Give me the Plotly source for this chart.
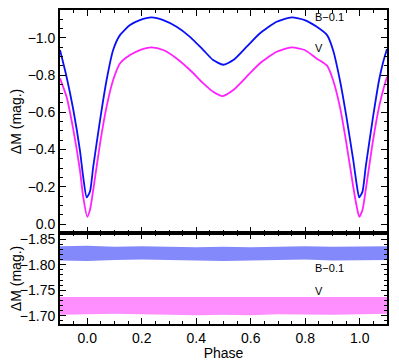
import plotly.graph_objects as go
from plotly.subplots import make_subplots

# light curve, B band shifted by -0.1
b_phase = [-0.100, -0.076, -0.051, -0.027, -0.015, -0.002, 0.010, 0.022, 0.047, 0.071,
           0.095, 0.120, 0.157, 0.193, 0.236, 0.279, 0.328, 0.377, 0.426, 0.462,
           0.499, 0.536, 0.585, 0.633, 0.695, 0.750, 0.798, 0.841, 0.880, 0.902,
           0.927, 0.951, 0.976, 0.988, 0.998, 1.010, 1.022, 1.047, 1.071, 1.086, 1.100]
b_mag = [-0.934, -0.791, -0.612, -0.397, -0.254, -0.143, -0.174, -0.308, -0.558, -0.773,
         -0.934, -1.014, -1.068, -1.095, -1.109, -1.095, -1.059, -1.005, -0.934, -0.880,
         -0.855, -0.880, -0.952, -1.023, -1.086, -1.109, -1.095, -1.060, -1.014, -0.934,
         -0.773, -0.576, -0.344, -0.220, -0.143, -0.174, -0.308, -0.558, -0.773, -0.870, -0.940]

# light curve, V band
v_phase = [-0.100, -0.076, -0.051, -0.027, -0.015, 0.000, 0.010, 0.022, 0.047, 0.071,
           0.095, 0.120, 0.157, 0.193, 0.236, 0.279, 0.328, 0.377, 0.426, 0.462,
           0.497, 0.536, 0.585, 0.633, 0.695, 0.750, 0.798, 0.841, 0.880, 0.902,
           0.927, 0.951, 0.976, 0.988, 0.998, 1.010, 1.022, 1.047, 1.071, 1.086, 1.100]
v_mag = [-0.782, -0.683, -0.505, -0.290, -0.147, -0.039, -0.075, -0.183, -0.433, -0.630,
         -0.773, -0.862, -0.907, -0.934, -0.948, -0.934, -0.889, -0.827, -0.755, -0.710,
         -0.687, -0.719, -0.791, -0.862, -0.925, -0.948, -0.934, -0.889, -0.850, -0.773,
         -0.630, -0.433, -0.200, -0.100, -0.039, -0.075, -0.183, -0.433, -0.630, -0.720, -0.791]

# comparison - check star residuals: band envelopes
c_phase = [-0.10, 0.00, 0.10, 0.20, 0.30, 0.40, 0.50, 0.60, 0.70, 0.80, 0.90, 1.00, 1.10]
cb_top = [-1.836, -1.837, -1.835, -1.836, -1.835, -1.834, -1.835, -1.834, -1.835, -1.836, -1.835, -1.836, -1.836]
cb_bot = [-1.808, -1.807, -1.809, -1.810, -1.809, -1.808, -1.807, -1.808, -1.809, -1.810, -1.808, -1.808, -1.809]
cv_top = [-1.737, -1.737, -1.736, -1.737, -1.736, -1.737, -1.737, -1.736, -1.736, -1.737, -1.736, -1.737, -1.737]
cv_bot = [-1.702, -1.703, -1.704, -1.703, -1.702, -1.701, -1.702, -1.701, -1.703, -1.702, -1.702, -1.703, -1.704]

BLUE = "#0a10f5"
MAG = "#ff22ff"
FONT = "Liberation Sans"

fig = make_subplots(rows=2, cols=1, shared_xaxes=True, vertical_spacing=0,
                    row_heights=[0.71, 0.29])

fig.add_trace(go.Scatter(x=b_phase, y=b_mag, mode="lines",
                         line=dict(color=BLUE, width=1.8, shape="spline", smoothing=0.6)), row=1, col=1)
fig.add_trace(go.Scatter(x=v_phase, y=v_mag, mode="lines",
                         line=dict(color=MAG, width=1.8, shape="spline", smoothing=0.6)), row=1, col=1)

for top, bot, col, fcol in [(cb_top, cb_bot, BLUE, "rgba(30,40,245,0.55)"),
                            (cv_top, cv_bot, MAG, "rgba(255,50,255,0.55)")]:
    fig.add_trace(go.Scatter(x=c_phase, y=top, mode="lines", line=dict(width=0, color=col),
                             hoverinfo="skip"), row=2, col=1)
    fig.add_trace(go.Scatter(x=c_phase, y=bot, mode="lines", line=dict(width=0, color=col),
                             fill="tonexty", fillcolor=fcol), row=2, col=1)

ann = dict(showarrow=False, xanchor="left", font=dict(family=FONT, size=11, color="black"))
fig.add_annotation(x=0.828, y=-1.11, text="B\u22120.1", xref="x", yref="y", **ann)
fig.add_annotation(x=0.828, y=-0.945, text="V", xref="x", yref="y", **ann)
fig.add_annotation(x=0.828, y=-1.793, text="B\u22120.1", xref="x2", yref="y2", **ann)
fig.add_annotation(x=0.828, y=-1.748, text="V", xref="x2", yref="y2", **ann)

axis_common = dict(showline=True, linecolor="black", linewidth=1.8, mirror="allticks",
                   ticks="inside", ticklen=6, tickwidth=1.2, tickcolor="black",
                   showgrid=False, zeroline=False, automargin=False,
                   tickfont=dict(family=FONT, size=14, color="black"))

fig.update_xaxes(range=[-0.1, 1.1], dtick=0.2, tick0=0, tickformat=".1f",
                 minor=dict(ticks="inside", dtick=0.05, ticklen=3, tickcolor="black", tickwidth=1),
                 **axis_common)
fig.update_xaxes(title=dict(text="Phase", font=dict(family=FONT, size=14, color="black"), standoff=0),
                 row=2, col=1)
fig.update_yaxes(range=[0.048, -1.149], dtick=0.2, tick0=0, tickformat=".1f",
                 minor=dict(ticks="inside", dtick=0.05, ticklen=3, tickcolor="black", tickwidth=1),
                 title=dict(text="\u0394M (mag.)", font=dict(family=FONT, size=14, color="black"), standoff=6),
                 row=1, col=1, **axis_common)
fig.update_yaxes(range=[-1.684, -1.862], dtick=0.05, tick0=0, tickformat=".2f",
                 minor=dict(ticks="inside", dtick=0.01, ticklen=3, tickcolor="black", tickwidth=1),
                 title=dict(text="\u0394M (mag.)", font=dict(family=FONT, size=14, color="black"), standoff=6),
                 row=2, col=1, **axis_common)

# page body adds an 8 px margin, so the figure is 8 px smaller than the window
fig.update_layout(width=391, height=353, showlegend=False,
                  margin=dict(l=52, r=12, t=2, b=37),
                  paper_bgcolor="white", plot_bgcolor="white",
                  font=dict(family=FONT, color="black"))

fig.write_html("out.html")
